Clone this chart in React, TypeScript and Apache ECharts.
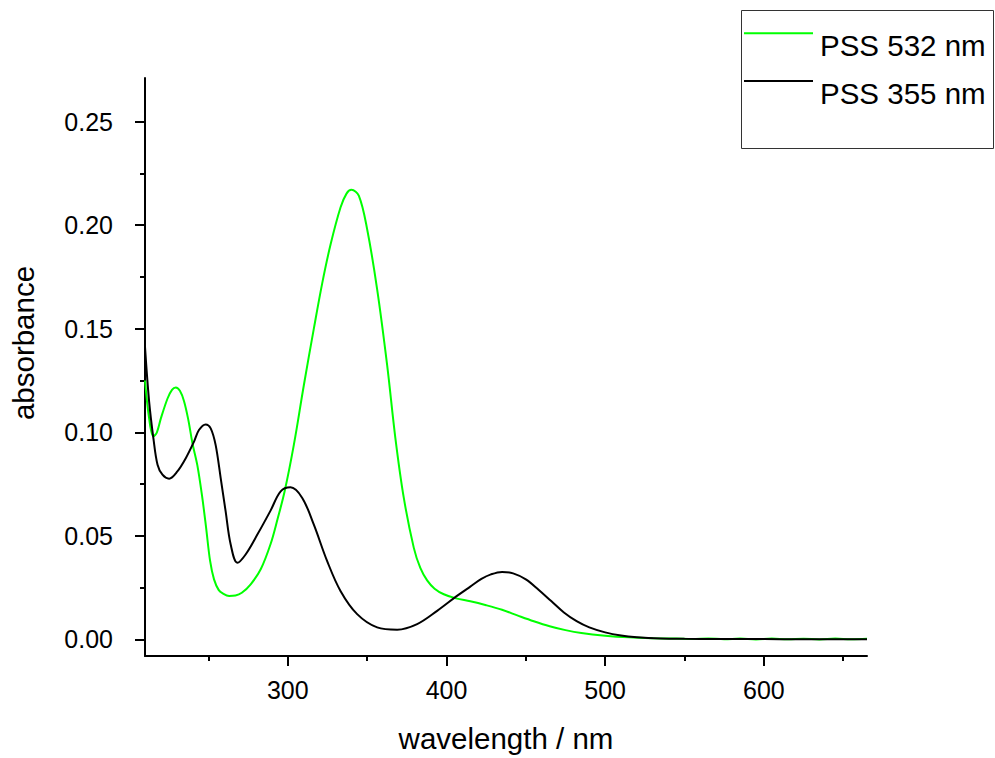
import React, { useEffect, useRef } from "react";
import * as echarts from "echarts";

// PSS 532 nm (green)
const wl532 = [210, 212.6, 215.3, 217.5, 220, 224.2, 227, 229.4, 232, 234.6, 237.3, 239.9, 243, 246, 248.5, 251, 253.5, 256.5, 259, 263, 267, 271, 276.6, 283, 289.2, 293.5, 298, 303.8, 310.1, 316.4, 321.7, 326.9, 333.2, 337, 340.1, 344.8, 350, 356.3, 362.6, 367.8, 373.1, 379.4, 383.5, 387.8, 392.5, 398.3, 406, 415, 425, 435, 445, 455, 465, 475, 485, 500, 515, 530, 545, 555, 565, 575, 585, 595, 605, 615, 625, 635, 645, 655, 665];
const abs532 = [0.125, 0.1067, 0.098, 0.1, 0.1067, 0.1163, 0.1205, 0.1216, 0.12, 0.115, 0.106, 0.0947, 0.084, 0.069, 0.054, 0.038, 0.029, 0.0238, 0.0222, 0.021, 0.0212, 0.0225, 0.0266, 0.034, 0.0462, 0.058, 0.0715, 0.0939, 0.1227, 0.15, 0.172, 0.1905, 0.2085, 0.2152, 0.217, 0.2141, 0.198, 0.169, 0.1324, 0.0971, 0.0683, 0.0442, 0.0345, 0.0285, 0.0245, 0.0218, 0.0198, 0.0184, 0.0165, 0.0143, 0.0115, 0.0088, 0.0064, 0.0045, 0.0031, 0.0018, 0.001, 0.0006, 0.0004, 0.0002, 0.0005, 0.0001, 0.0004, 0.0, 0.0004, 0.0001, 0.0003, 0.0, 0.0004, 0.0001, 0.0003];

// PSS 355 nm (black)
const wl355 = [210, 212.6, 215.3, 217.9, 221, 225.2, 230.4, 235.7, 240.9, 244, 248.2, 251.4, 254.5, 257.7, 260.8, 264, 268.2, 273.4, 280.8, 289.2, 295.5, 301.7, 309.1, 316.4, 324.8, 333.2, 343.7, 356.3, 368.9, 381.5, 394.1, 406.6, 415, 422, 428, 435, 442, 450, 458, 466, 474, 482, 490, 500, 510, 520, 535, 550, 570, 590, 610, 630, 650, 665];
const abs355 = [0.1412, 0.1148, 0.0971, 0.0843, 0.0795, 0.0776, 0.0811, 0.0875, 0.0955, 0.1011, 0.1038, 0.1019, 0.0939, 0.0779, 0.0619, 0.0458, 0.037, 0.041, 0.0506, 0.0623, 0.0715, 0.0734, 0.0683, 0.0554, 0.0378, 0.0234, 0.0122, 0.0058, 0.0047, 0.0074, 0.0138, 0.021, 0.0255, 0.0292, 0.0314, 0.0326, 0.0319, 0.029, 0.024, 0.0185, 0.013, 0.0088, 0.0058, 0.0034, 0.0019, 0.0011, 0.0005, 0.0003, 0.0002, 0.0002, 0.0001, 0.0001, 0.0001, 0.0001];

const xMajorTicks = [300, 400, 500, 600];
const xMinorTicks = [250, 350, 450, 550, 650];
const yMajorTicks = [0, 0.05, 0.1, 0.15, 0.2, 0.25];
const yMinorTicks = [0.025, 0.075, 0.125, 0.175, 0.225];

const seriesNames = ["PSS 532 nm", "PSS 355 nm"];
const seriesColors = ["#00ff00", "#000000"];

const FONT = '"Liberation Sans", Arial, sans-serif';

export default function App() {
  const ref = useRef<HTMLDivElement>(null);
  useEffect(() => {
    if (!ref.current) return;
    const chart = echarts.init(ref.current, null, { renderer: "svg" });
    const xMin = 210;
    const xMax = 665;
    const yMin = -0.008;
    const yMax = 0.271;
    const axisLine = { show: true, onZero: false, lineStyle: { color: "#000", width: 2 } };
    chart.setOption({
      animation: false,
      backgroundColor: "#ffffff",
      grid: { left: 145, right: 128, top: 78, bottom: 100, containLabel: false },
      xAxis: [
        {
          type: "value",
          min: xMin,
          max: xMax,
          position: "bottom",
          name: "wavelength / nm",
          nameLocation: "middle",
          nameGap: 67,
          nameTextStyle: { fontFamily: FONT, fontSize: 29.5, color: "#000" },
          axisLine,
          axisTick: { show: true, inside: false, length: 10, lineStyle: { color: "#000", width: 2 }, customValues: xMajorTicks },
          axisLabel: { show: true, margin: 21, fontFamily: FONT, fontSize: 25, color: "#000", customValues: xMajorTicks },
          splitLine: { show: false },
        },
        {
          type: "value",
          min: xMin,
          max: xMax,
          position: "bottom",
          axisLine: { show: false, onZero: false },
          axisTick: { show: true, inside: false, length: 5, lineStyle: { color: "#000", width: 2 }, customValues: xMinorTicks },
          axisLabel: { show: false },
          splitLine: { show: false },
        },
      ],
      yAxis: [
        {
          type: "value",
          min: yMin,
          max: yMax,
          position: "left",
          name: "absorbance",
          nameLocation: "middle",
          nameGap: 107,
          nameTextStyle: { fontFamily: FONT, fontSize: 29.5, color: "#000", padding: [0, 0, 0, 48] },
          axisLine,
          axisTick: { show: true, inside: false, length: 10, lineStyle: { color: "#000", width: 2 }, customValues: yMajorTicks },
          axisLabel: {
            show: true,
            margin: 32,
            fontFamily: FONT,
            fontSize: 25,
            color: "#000",
            customValues: yMajorTicks,
            formatter: (v: number) => v.toFixed(2),
          },
          splitLine: { show: false },
        },
        {
          type: "value",
          min: yMin,
          max: yMax,
          position: "left",
          axisLine: { show: false, onZero: false },
          axisTick: { show: true, inside: false, length: 5, lineStyle: { color: "#000", width: 2 }, customValues: yMinorTicks },
          axisLabel: { show: false },
          splitLine: { show: false },
        },
      ],
      series: [
        {
          name: seriesNames[0],
          type: "line",
          xAxisIndex: 0,
          yAxisIndex: 0,
          showSymbol: false,
          smooth: 0.35,
          lineStyle: { color: seriesColors[0], width: 2 },
          itemStyle: { color: seriesColors[0] },
          data: wl532.map((w, i) => [w, abs532[i]]),
          z: 2,
        },
        {
          name: seriesNames[1],
          type: "line",
          xAxisIndex: 0,
          yAxisIndex: 0,
          showSymbol: false,
          smooth: 0.35,
          lineStyle: { color: seriesColors[1], width: 2 },
          itemStyle: { color: seriesColors[1] },
          data: wl355.map((w, i) => [w, abs355[i]]),
          z: 3,
        },
      ],
      graphic: [
        {
          type: "group",
          left: 741,
          top: 10,
          children: [
            {
              type: "rect",
              shape: { x: 0.5, y: 0.5, width: 252, height: 138 },
              style: { fill: "#fff", stroke: "#333", lineWidth: 1 },
            },
            {
              type: "line",
              shape: { x1: 3, y1: 23.3, x2: 72, y2: 23.3 },
              style: { stroke: seriesColors[0], lineWidth: 2 },
            },
            {
              type: "text",
              x: 79,
              y: 35.3,
              style: { text: seriesNames[0], fontFamily: FONT, fontSize: 29.5, fill: "#000", verticalAlign: "middle", align: "left" },
            },
            {
              type: "line",
              shape: { x1: 3, y1: 71, x2: 72, y2: 71 },
              style: { stroke: seriesColors[1], lineWidth: 2 },
            },
            {
              type: "text",
              x: 79,
              y: 83,
              style: { text: seriesNames[1], fontFamily: FONT, fontSize: 29.5, fill: "#000", verticalAlign: "middle", align: "left" },
            },
          ],
        },
      ],
    });
    return () => chart.dispose();
  }, []);
  return (
    <div
      ref={ref}
      style={{ position: "fixed", left: 0, top: 0, width: 995, height: 758, background: "#fff" }}
    />
  );
}
